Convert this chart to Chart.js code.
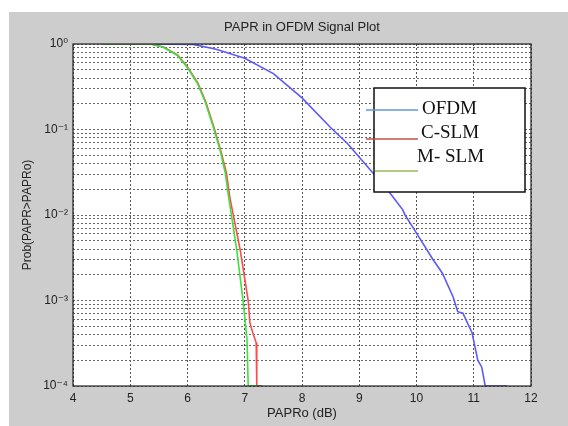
<!DOCTYPE html>
<html>
<head>
<meta charset="utf-8">
<script src="https://cdn.jsdelivr.net/npm/chart.js@4.4.1/dist/chart.umd.min.js"></script>
<style>
  html, body { margin: 0; padding: 0; background: #ffffff; }
  #wrap { width: 568px; height: 426px; position: relative; }
</style>
</head>
<body>
<div id="wrap"><canvas id="c" width="568" height="426"></canvas></div>
<script>
// ---- data ----
const chartTitle = "PAPR in OFDM Signal Plot";
const xAxisTitle = "PAPRo (dB)";
const yAxisTitle = "Prob(PAPR>PAPRo)";
const xTicks = [4, 5, 6, 7, 8, 9, 10, 11, 12];
const yDecades = [-4, -3, -2, -1, 0];
const seriesNames = ["OFDM", "C-SLM", "M- SLM"];

const ofdmX = [4.5, 5.3, 6.1, 6.5, 7.0, 7.5, 8.0, 8.49, 8.79, 9.24, 9.54, 9.76, 9.80, 9.97, 10.29, 10.45, 10.64, 10.72, 10.81, 10.97, 11.07, 11.14, 11.20, 11.58];
const ofdmY = [1, 1, 0.99, 0.87, 0.68, 0.45, 0.234, 0.107, 0.069, 0.031, 0.018, 0.0115, 0.010, 0.0066, 0.0030, 0.0021, 0.0011, 0.00074, 0.00071, 0.00042, 0.00020, 0.000166, 0.0001, 0.0001];

const cslmX = [4.5, 5.35, 5.58, 5.83, 6.0, 6.18, 6.32, 6.46, 6.58, 6.68, 6.74, 6.92, 7.06, 7.09, 7.14, 7.20, 7.21, 7.30];
const cslmY = [1, 1, 0.92, 0.74, 0.54, 0.35, 0.21, 0.107, 0.057, 0.031, 0.016, 0.0039, 0.001, 0.00055, 0.00042, 0.00032, 0.0001, 0.0001];

const mslmX = [4.5, 5.35, 5.57, 5.82, 5.99, 6.17, 6.31, 6.45, 6.57, 6.66, 6.72, 6.86, 6.97, 7.04, 7.06, 7.30];
const mslmY = [1, 1, 0.92, 0.74, 0.54, 0.35, 0.21, 0.107, 0.057, 0.031, 0.016, 0.0039, 0.001, 0.00035, 0.0001, 0.0001];

// ---- helpers ----
function pts(xs, ys) { return xs.map((x, i) => ({ x: x, y: ys[i] })); }
const yTickValues = [];
yDecades.forEach(d => {
  if (d === 0) { yTickValues.push(1); return; }
  for (let m = 1; m <= 9; m++) yTickValues.push(parseFloat((m * Math.pow(10, d)).toPrecision(6)));
});
const sup = { '0': '\u2070', '1': '\u00B9', '2': '\u00B2', '3': '\u00B3', '4': '\u2074', '-': '\u207B' };
function powLabel(v) {
  const l = Math.log10(v);
  if (Math.abs(l - Math.round(l)) > 1e-9) return '';
  return '10' + String(Math.round(l)).split('').map(ch => sup[ch]).join('');
}

const bgPlugin = {
  id: 'bg',
  beforeDraw(chart) {
    const ctx = chart.ctx, ca = chart.chartArea;
    ctx.save();
    ctx.fillStyle = '#ffffff';
    ctx.fillRect(0, 0, chart.width, chart.height);
    ctx.fillStyle = '#cdcdcd';
    ctx.fillRect(9, 12, chart.width - 9, chart.height - 12);
    ctx.fillStyle = '#ffffff';
    ctx.fillRect(ca.left, ca.top, ca.right - ca.left, ca.bottom - ca.top);
    ctx.restore();
  },
  afterDraw(chart) {
    const ctx = chart.ctx, ca = chart.chartArea;
    ctx.save();
    // frame
    ctx.strokeStyle = '#222';
    ctx.lineWidth = 1.2;
    ctx.strokeRect(ca.left, ca.top, ca.right - ca.left, ca.bottom - ca.top);
    // title
    ctx.fillStyle = '#222';
    ctx.font = '13px "Liberation Sans", Arial, sans-serif';
    ctx.textAlign = 'center';
    ctx.textBaseline = 'middle';
    ctx.fillText(chartTitle, (ca.left + ca.right) / 2, ca.top - 17);
    // legend box (overlay, like the reference)
    const bx = ca.left + 301, by = ca.top + 44, bw = 151, bh = 104;
    ctx.fillStyle = '#ffffff';
    ctx.fillRect(bx, by, bw, bh);
    ctx.strokeStyle = '#111';
    ctx.lineWidth = 1.5;
    ctx.strokeRect(bx, by, bw, bh);
    const legCols = ['#5b9bd5', '#c0504d', '#9bbb59'];
    const lineY = [by + 22, by + 51, by + 83];
    const lineX0 = [bx - 8, bx - 8, bx + 1];
    const lineX1 = bx + 44;
    for (let i = 0; i < 3; i++) {
      ctx.strokeStyle = legCols[i];
      ctx.lineWidth = 1.6;
      ctx.beginPath();
      ctx.moveTo(lineX0[i], lineY[i]);
      ctx.lineTo(lineX1, lineY[i]);
      ctx.stroke();
    }
    ctx.fillStyle = '#111';
    ctx.font = '19px "Liberation Serif", "DejaVu Serif", serif';
    ctx.textAlign = 'left';
    ctx.textBaseline = 'middle';
    const txtX = [bx + 48, bx + 47, bx + 43];
    const txtY = [by + 21, by + 45, by + 69];
    for (let i = 0; i < 3; i++) ctx.fillText(seriesNames[i], txtX[i], txtY[i]);
    ctx.restore();
  }
};

const gridDash = [2, 2];
new Chart(document.getElementById('c'), {
  type: 'line',
  data: {
    datasets: [
      { label: seriesNames[0], data: pts(ofdmX, ofdmY), borderColor: '#5a5aff', borderWidth: 1.6, order: 3 },
      { label: seriesNames[1], data: pts(cslmX, cslmY), borderColor: '#ff4a4a', borderWidth: 1.6, order: 2 },
      { label: seriesNames[2], data: pts(mslmX, mslmY), borderColor: '#3fe03f', borderWidth: 1.6, order: 1 }
    ]
  },
  options: {
    responsive: false,
    animation: false,
    events: [],
    layout: { padding: { left: 0, right: 37, top: 44, bottom: 0 } },
    elements: { point: { radius: 0 }, line: { tension: 0 } },
    plugins: { legend: { display: false }, tooltip: { enabled: false }, title: { display: false } },
    scales: {
      x: {
        type: 'linear',
        min: xTicks[0], max: xTicks[xTicks.length - 1],
        afterBuildTicks(scale) { scale.ticks = xTicks.map(v => ({ value: v })); },
        afterFit(scale) { scale.height = 40; },
        ticks: { color: '#222', font: { family: '"Liberation Sans", Arial, sans-serif', size: 12 }, padding: 5, maxRotation: 0, autoSkip: false },
        grid: { color: '#555', drawTicks: false, lineWidth: 1 },
        border: { display: false, dash: gridDash },
        title: { display: true, text: xAxisTitle, color: '#222', font: { family: '"Liberation Sans", Arial, sans-serif', size: 13 }, padding: { top: 2, bottom: 5 } }
      },
      y: {
        type: 'logarithmic',
        min: 1e-4, max: 1,
        afterBuildTicks(scale) { scale.ticks = yTickValues.map(v => ({ value: v })); },
        afterFit(scale) { scale.width = 73; },
        ticks: { color: '#222', font: { family: '"Liberation Sans", "DejaVu Sans", Arial, sans-serif', size: 12 }, padding: 5, autoSkip: false, callback: (v) => powLabel(v) },
        grid: { color: '#666', drawTicks: false, lineWidth: 1 },
        border: { display: false, dash: gridDash },
        title: { display: true, text: yAxisTitle, color: '#222', font: { family: '"Liberation Sans", Arial, sans-serif', size: 12 }, padding: { top: 20, bottom: 0 } }
      }
    }
  },
  plugins: [bgPlugin]
});
</script>
</body>
</html>
